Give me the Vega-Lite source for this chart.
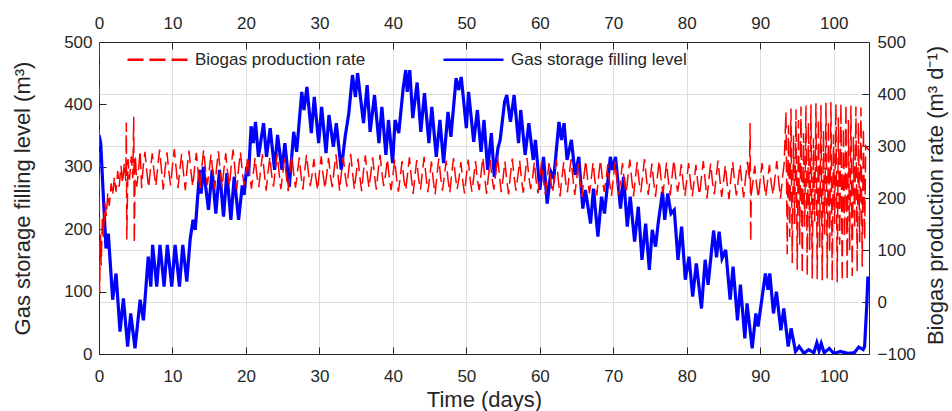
{
"$schema": "https://vega.github.io/schema/vega-lite/v6.json",
"width": 770, "height": 312,
"autosize": {"type": "none"},
"padding": {"left": 99, "top": 42, "right": 83, "bottom": 57},
"config": {
 "view": {"stroke": null},
 "font": "Liberation Sans",
 "axis": {"domainColor": "#262626", "domainWidth": 1, "tickColor": "#262626", "tickSize": -7, "tickWidth": 1,
  "labelColor": "#262626", "labelFont": "Liberation Sans", "labelFontSize": 17, "labelPadding": 17,
  "labelFlush": false, "labelOverlap": false, "labelBound": false,
  "titleColor": "#262626", "titleFont": "Liberation Sans", "titleFontSize": 22, "titleFontWeight": "normal",
  "gridColor": "#dedede", "gridWidth": 1}
},
"datasets": {
 "blue": [
  {"d":0,"v":351},{"d":0.23,"v":338},{"d":0.95,"v":169},{"d":1.27,"v":193},{"d":1.86,"v":87},{"d":2.32,"v":129},{"d":2.86,"v":36},{"d":3.32,"v":89},{"d":3.9,"v":12},{"d":4.32,"v":65},{"d":4.9,"v":9},{"d":5.6,"v":87},{"d":6.05,"v":54},{"d":6.7,"v":156},{"d":7.05,"v":108},{"d":7.3,"v":175},{"d":7.86,"v":108},{"d":8.3,"v":175},{"d":8.86,"v":108},{"d":9.3,"v":175},{"d":9.9,"v":108},{"d":10.36,"v":175},{"d":10.95,"v":108},{"d":11.4,"v":175},{"d":11.95,"v":116},{"d":12.4,"v":183},{"d":12.8,"v":215},{"d":13.1,"v":199},{"d":13.7,"v":295},{"d":13.9,"v":257},{"d":14.2,"v":300},{"d":14.9,"v":231},{"d":15.4,"v":295},{"d":15.9,"v":225},{"d":16.4,"v":295},{"d":16.95,"v":220},{"d":17.4,"v":290},{"d":17.95,"v":215},{"d":18.4,"v":284},{"d":19.0,"v":215},{"d":19.5,"v":270},{"d":19.75,"v":255},{"d":20.1,"v":300},{"d":20.35,"v":285},{"d":20.7,"v":365},{"d":21.0,"v":338},{"d":21.3,"v":372},{"d":21.7,"v":316},{"d":22.4,"v":370},{"d":22.8,"v":316},{"d":23.3,"v":362},{"d":23.9,"v":295},{"d":24.3,"v":351},{"d":24.9,"v":295},{"d":25.3,"v":338},{"d":25.9,"v":268},{"d":26.5,"v":356},{"d":26.9,"v":324},{"d":27.6,"v":420},{"d":27.9,"v":391},{"d":28.3,"v":428},{"d":28.9,"v":354},{"d":29.3,"v":412},{"d":29.9,"v":338},{"d":30.3,"v":396},{"d":30.9,"v":322},{"d":31.3,"v":383},{"d":31.9,"v":332},{"d":32.3,"v":370},{"d":32.97,"v":295},{"d":33.5,"v":348},{"d":34.0,"v":386},{"d":34.5,"v":447},{"d":34.9,"v":412},{"d":35.2,"v":450},{"d":36.0,"v":370},{"d":36.5,"v":431},{"d":36.9,"v":356},{"d":37.5,"v":415},{"d":38.1,"v":338},{"d":38.5,"v":396},{"d":39.05,"v":319},{"d":39.4,"v":375},{"d":39.96,"v":306},{"d":40.3,"v":375},{"d":40.8,"v":354},{"d":41.4,"v":426},{"d":41.75,"v":455},{"d":41.95,"v":420},{"d":42.3,"v":455},{"d":42.7,"v":378},{"d":43.3,"v":435},{"d":43.8,"v":356},{"d":44.3,"v":418},{"d":44.9,"v":338},{"d":45.3,"v":396},{"d":45.9,"v":316},{"d":46.4,"v":375},{"d":46.9,"v":306},{"d":47.5,"v":388},{"d":47.9,"v":348},{"d":48.6,"v":442},{"d":48.96,"v":423},{"d":49.3,"v":444},{"d":50.0,"v":362},{"d":50.3,"v":420},{"d":51.0,"v":340},{"d":51.5,"v":391},{"d":52.0,"v":324},{"d":52.4,"v":375},{"d":52.9,"v":295},{"d":53.4,"v":354},{"d":53.8,"v":284},{"d":54.3,"v":330},{"d":54.6,"v":343},{"d":55.2,"v":404},{"d":55.5,"v":415},{"d":56.0,"v":372},{"d":56.5,"v":415},{"d":57.1,"v":338},{"d":57.4,"v":391},{"d":58.0,"v":319},{"d":58.5,"v":370},{"d":59.1,"v":311},{"d":59.4,"v":343},{"d":60.0,"v":263},{"d":60.5,"v":316},{"d":61.0,"v":241},{"d":61.5,"v":292},{"d":61.9,"v":282},{"d":62.6,"v":372},{"d":62.95,"v":343},{"d":63.3,"v":370},{"d":63.7,"v":311},{"d":64.3,"v":343},{"d":64.8,"v":287},{"d":65.3,"v":316},{"d":65.85,"v":233},{"d":66.2,"v":263},{"d":66.9,"v":209},{"d":67.3,"v":265},{"d":67.9,"v":188},{"d":68.4,"v":252},{"d":68.8,"v":225},{"d":69.6,"v":316},{"d":69.9,"v":295},{"d":70.3,"v":316},{"d":70.98,"v":233},{"d":71.4,"v":284},{"d":71.9,"v":204},{"d":72.3,"v":252},{"d":72.9,"v":180},{"d":73.4,"v":236},{"d":73.9,"v":151},{"d":74.4,"v":209},{"d":74.9,"v":135},{"d":75.3,"v":199},{"d":75.75,"v":172},{"d":76.1,"v":209},{"d":76.7,"v":260},{"d":77.0,"v":215},{"d":77.4,"v":257},{"d":77.85,"v":225},{"d":78.3,"v":231},{"d":78.8,"v":151},{"d":79.3,"v":204},{"d":79.8,"v":119},{"d":80.3,"v":156},{"d":80.8,"v":92},{"d":81.3,"v":145},{"d":82.0,"v":73},{"d":82.5,"v":151},{"d":82.9,"v":111},{"d":83.65,"v":198},{"d":84.05,"v":155},{"d":84.4,"v":196},{"d":84.8,"v":153},{"d":85.3,"v":167},{"d":85.9,"v":87},{"d":86.3,"v":140},{"d":86.9,"v":54},{"d":87.3,"v":111},{"d":87.9,"v":25},{"d":88.2,"v":81},{"d":88.9,"v":9},{"d":89.4,"v":65},{"d":89.7,"v":44},{"d":90.7,"v":129},{"d":91.05,"v":103},{"d":91.3,"v":129},{"d":91.8,"v":65},{"d":92.2,"v":100},{"d":92.8,"v":38},{"d":93.2,"v":73},{"d":93.8,"v":12},{"d":94.2,"v":41},{"d":94.8,"v":4},{"d":95.3,"v":12},{"d":95.95,"v":1},{"d":96.6,"v":7},{"d":97.3,"v":2},{"d":97.7,"v":18},{"d":98.0,"v":5},{"d":98.3,"v":17},{"d":98.7,"v":2},{"d":99.4,"v":9},{"d":100.0,"v":1},{"d":100.9,"v":4},{"d":101.9,"v":1},{"d":102.8,"v":2},{"d":103.4,"v":11},{"d":104.0,"v":7},{"d":104.2,"v":12},{"d":104.5,"v":79},{"d":104.65,"v":124},{"d":104.8,"v":103}
 ],
 "red": [
  {"d":0,"r":500},{"d":0.08,"r":15},{"d":0.2,"r":130},{"d":0.3,"r":70},{"d":0.45,"r":160},{"d":0.6,"r":125},{"d":0.8,"r":190},{"d":1.0,"r":165},{"d":1.2,"r":210},{"d":1.4,"r":185},{"d":1.65,"r":228},{"d":1.85,"r":205},{"d":2.1,"r":240},{"d":2.3,"r":212},{"d":2.55,"r":252},{"d":2.75,"r":222},{"d":3.0,"r":262},{"d":3.2,"r":228},{"d":3.45,"r":268},{"d":3.65,"r":232},{"d":3.72,"r":345},{"d":3.78,"r":120},{"d":3.95,"r":275},{"d":4.15,"r":235},{"d":4.4,"r":280},{"d":4.6,"r":238},{"d":4.73,"r":356},{"d":4.8,"r":113},{"d":4.95,"r":282},{"d":5.15,"r":222},{"d":5.4,"r":258},{"d":5.6,"r":291},{"d":5.8,"r":219},
  {"d":6,"r":258},{"d":6.25,"r":289},{"d":6.5,"r":252},{"d":6.75,"r":220},
  {"d":7,"r":255},{"d":7.25,"r":286},{"d":7.5,"r":249},{"d":7.75,"r":223},
  {"d":8,"r":262},{"d":8.25,"r":293},{"d":8.5,"r":255},{"d":8.75,"r":216},
  {"d":9,"r":257},{"d":9.25,"r":288},{"d":9.5,"r":251},{"d":9.75,"r":224},
  {"d":10,"r":263},{"d":10.25,"r":294},{"d":10.5,"r":257},{"d":10.75,"r":219},
  {"d":11,"r":254},{"d":11.25,"r":285},{"d":11.5,"r":248},{"d":11.75,"r":215},
  {"d":12,"r":260},{"d":12.25,"r":291},{"d":12.5,"r":253},{"d":12.75,"r":222},
  {"d":13,"r":256},{"d":13.25,"r":287},{"d":13.5,"r":250},{"d":13.75,"r":218},
  {"d":14,"r":261},{"d":14.25,"r":292},{"d":14.5,"r":254},{"d":14.75,"r":225},
  {"d":15,"r":253},{"d":15.25,"r":284},{"d":15.5,"r":249},{"d":15.75,"r":217},
  {"d":16,"r":258},{"d":16.25,"r":290},{"d":16.5,"r":252},{"d":16.75,"r":220},
  {"d":17,"r":255},{"d":17.25,"r":286},{"d":17.5,"r":249},{"d":17.75,"r":223},
  {"d":18,"r":262},{"d":18.25,"r":293},{"d":18.5,"r":255},{"d":18.75,"r":216},
  {"d":19,"r":257},{"d":19.25,"r":288},{"d":19.5,"r":251},{"d":19.75,"r":224},
  {"d":20,"r":250},{"d":20.25,"r":280},{"d":20.5,"r":245},{"d":20.75,"r":218},
  {"d":21,"r":247},{"d":21.25,"r":277},{"d":21.5,"r":242},{"d":21.75,"r":221},
  {"d":22,"r":254},{"d":22.25,"r":284},{"d":22.5,"r":248},{"d":22.75,"r":214},
  {"d":23,"r":249},{"d":23.25,"r":279},{"d":23.5,"r":244},{"d":23.75,"r":222},
  {"d":24,"r":255},{"d":24.25,"r":285},{"d":24.5,"r":250},{"d":24.75,"r":217},
  {"d":25,"r":246},{"d":25.25,"r":276},{"d":25.5,"r":241},{"d":25.75,"r":213},
  {"d":26,"r":252},{"d":26.25,"r":282},{"d":26.5,"r":247},{"d":26.75,"r":220},
  {"d":27,"r":248},{"d":27.25,"r":278},{"d":27.5,"r":243},{"d":27.75,"r":216},
  {"d":28,"r":253},{"d":28.25,"r":283},{"d":28.5,"r":249},{"d":28.75,"r":223},
  {"d":29,"r":245},{"d":29.25,"r":275},{"d":29.5,"r":240},{"d":29.75,"r":215},
  {"d":30,"r":250},{"d":30.25,"r":280},{"d":30.5,"r":245},{"d":30.75,"r":218},
  {"d":31,"r":247},{"d":31.25,"r":277},{"d":31.5,"r":242},{"d":31.75,"r":221},
  {"d":32,"r":254},{"d":32.25,"r":284},{"d":32.5,"r":248},{"d":32.75,"r":214},
  {"d":33,"r":249},{"d":33.25,"r":279},{"d":33.5,"r":244},{"d":33.75,"r":222},
  {"d":34,"r":255},{"d":34.25,"r":285},{"d":34.5,"r":250},{"d":34.75,"r":217},
  {"d":35,"r":246},{"d":35.25,"r":276},{"d":35.5,"r":241},{"d":35.75,"r":213},
  {"d":36,"r":252},{"d":36.25,"r":282},{"d":36.5,"r":247},{"d":36.75,"r":220},
  {"d":37,"r":248},{"d":37.25,"r":278},{"d":37.5,"r":243},{"d":37.75,"r":216},
  {"d":38,"r":253},{"d":38.25,"r":283},{"d":38.5,"r":249},{"d":38.75,"r":223},
  {"d":39,"r":245},{"d":39.25,"r":275},{"d":39.5,"r":240},{"d":39.75,"r":215},
  {"d":40,"r":243},{"d":40.25,"r":274},{"d":40.5,"r":238},{"d":40.75,"r":212},
  {"d":41,"r":240},{"d":41.25,"r":271},{"d":41.5,"r":235},{"d":41.75,"r":215},
  {"d":42,"r":247},{"d":42.25,"r":278},{"d":42.5,"r":241},{"d":42.75,"r":208},
  {"d":43,"r":242},{"d":43.25,"r":273},{"d":43.5,"r":237},{"d":43.75,"r":216},
  {"d":44,"r":248},{"d":44.25,"r":279},{"d":44.5,"r":243},{"d":44.75,"r":211},
  {"d":45,"r":239},{"d":45.25,"r":270},{"d":45.5,"r":234},{"d":45.75,"r":207},
  {"d":46,"r":245},{"d":46.25,"r":276},{"d":46.5,"r":240},{"d":46.75,"r":214},
  {"d":47,"r":241},{"d":47.25,"r":272},{"d":47.5,"r":236},{"d":47.75,"r":210},
  {"d":48,"r":246},{"d":48.25,"r":277},{"d":48.5,"r":242},{"d":48.75,"r":217},
  {"d":49,"r":238},{"d":49.25,"r":269},{"d":49.5,"r":233},{"d":49.75,"r":209},
  {"d":50,"r":243},{"d":50.25,"r":274},{"d":50.5,"r":238},{"d":50.75,"r":212},
  {"d":51,"r":240},{"d":51.25,"r":271},{"d":51.5,"r":235},{"d":51.75,"r":215},
  {"d":52,"r":247},{"d":52.25,"r":278},{"d":52.5,"r":241},{"d":52.75,"r":208},
  {"d":53,"r":242},{"d":53.25,"r":273},{"d":53.5,"r":237},{"d":53.75,"r":216},
  {"d":54,"r":248},{"d":54.25,"r":279},{"d":54.5,"r":243},{"d":54.75,"r":211},
  {"d":55,"r":239},{"d":55.25,"r":270},{"d":55.5,"r":234},{"d":55.75,"r":207},
  {"d":56,"r":245},{"d":56.25,"r":276},{"d":56.5,"r":240},{"d":56.75,"r":214},
  {"d":57,"r":241},{"d":57.25,"r":272},{"d":57.5,"r":236},{"d":57.75,"r":210},
  {"d":58,"r":246},{"d":58.25,"r":277},{"d":58.5,"r":242},{"d":58.75,"r":217},
  {"d":59,"r":238},{"d":59.25,"r":269},{"d":59.5,"r":233},{"d":59.75,"r":209},
  {"d":60,"r":239},{"d":60.25,"r":270},{"d":60.5,"r":234},{"d":60.75,"r":207},
  {"d":61,"r":236},{"d":61.25,"r":267},{"d":61.5,"r":231},{"d":61.75,"r":210},
  {"d":62,"r":243},{"d":62.25,"r":274},{"d":62.5,"r":237},{"d":62.75,"r":203},
  {"d":63,"r":238},{"d":63.25,"r":269},{"d":63.5,"r":233},{"d":63.75,"r":211},
  {"d":64,"r":244},{"d":64.25,"r":275},{"d":64.5,"r":239},{"d":64.75,"r":206},
  {"d":65,"r":235},{"d":65.25,"r":266},{"d":65.5,"r":230},{"d":65.75,"r":202},
  {"d":66,"r":241},{"d":66.25,"r":272},{"d":66.5,"r":236},{"d":66.75,"r":209},
  {"d":67,"r":237},{"d":67.25,"r":268},{"d":67.5,"r":232},{"d":67.75,"r":205},
  {"d":68,"r":242},{"d":68.25,"r":273},{"d":68.5,"r":238},{"d":68.75,"r":212},
  {"d":69,"r":234},{"d":69.25,"r":265},{"d":69.5,"r":229},{"d":69.75,"r":204},
  {"d":70,"r":239},{"d":70.25,"r":270},{"d":70.5,"r":234},{"d":70.75,"r":207},
  {"d":71,"r":236},{"d":71.25,"r":267},{"d":71.5,"r":231},{"d":71.75,"r":210},
  {"d":72,"r":243},{"d":72.25,"r":274},{"d":72.5,"r":237},{"d":72.75,"r":203},
  {"d":73,"r":238},{"d":73.25,"r":269},{"d":73.5,"r":233},{"d":73.75,"r":211},
  {"d":74,"r":244},{"d":74.25,"r":275},{"d":74.5,"r":239},{"d":74.75,"r":206},
  {"d":75,"r":235},{"d":75.25,"r":266},{"d":75.5,"r":230},{"d":75.75,"r":202},
  {"d":76,"r":241},{"d":76.25,"r":272},{"d":76.5,"r":236},{"d":76.75,"r":209},
  {"d":77,"r":237},{"d":77.25,"r":268},{"d":77.5,"r":232},{"d":77.75,"r":205},
  {"d":78,"r":242},{"d":78.25,"r":273},{"d":78.5,"r":238},{"d":78.75,"r":212},
  {"d":79,"r":234},{"d":79.25,"r":265},{"d":79.5,"r":229},{"d":79.75,"r":204},
  {"d":80,"r":236},{"d":80.25,"r":267},{"d":80.5,"r":231},{"d":80.75,"r":203},
  {"d":81,"r":233},{"d":81.25,"r":264},{"d":81.5,"r":228},{"d":81.75,"r":206},
  {"d":82,"r":240},{"d":82.25,"r":271},{"d":82.5,"r":234},{"d":82.75,"r":199},
  {"d":83,"r":235},{"d":83.25,"r":266},{"d":83.5,"r":230},{"d":83.75,"r":207},
  {"d":84,"r":241},{"d":84.25,"r":272},{"d":84.5,"r":236},{"d":84.75,"r":202},
  {"d":85,"r":232},{"d":85.25,"r":263},{"d":85.5,"r":227},{"d":85.75,"r":198},
  {"d":86,"r":238},{"d":86.25,"r":269},{"d":86.5,"r":233},{"d":86.75,"r":205},
  {"d":87,"r":234},{"d":87.25,"r":265},{"d":87.5,"r":229},{"d":87.75,"r":201},
  {"d":88,"r":239},{"d":88.25,"r":270},{"d":88.5,"r":235},{"d":88.62,"r":344},{"d":88.7,"r":116},{"d":88.78,"r":208},
  {"d":89,"r":231},{"d":89.25,"r":262},{"d":89.5,"r":226},{"d":89.75,"r":200},
  {"d":90,"r":236},{"d":90.25,"r":267},{"d":90.5,"r":231},{"d":90.75,"r":203},
  {"d":91,"r":233},{"d":91.25,"r":264},{"d":91.5,"r":228},{"d":91.75,"r":206},
  {"d":92,"r":240},{"d":92.25,"r":271},{"d":92.5,"r":234},{"d":92.75,"r":199},
  {"d":93,"r":235},{"d":93.25,"r":266},
  {"d":93.5,"r":365},{"d":93.67,"r":92},{"d":93.84,"r":340},{"d":94.01,"r":125},{"d":94.18,"r":372},{"d":94.35,"r":75},{"d":94.52,"r":320},{"d":94.69,"r":150},{"d":94.86,"r":370},{"d":95.03,"r":62},{"d":95.2,"r":350},{"d":95.37,"r":110},{"d":95.54,"r":376},{"d":95.71,"r":55},{"d":95.88,"r":325},{"d":96.05,"r":145},{"d":96.22,"r":378},{"d":96.39,"r":50},{"d":96.56,"r":345},{"d":96.73,"r":100},{"d":96.9,"r":380},{"d":97.07,"r":45},{"d":97.24,"r":315},{"d":97.41,"r":155},{"d":97.58,"r":382},{"d":97.75,"r":44},{"d":97.92,"r":352},{"d":98.09,"r":105},{"d":98.26,"r":379},{"d":98.43,"r":42},{"d":98.6,"r":330},{"d":98.77,"r":130},{"d":98.94,"r":383},{"d":99.11,"r":45},{"d":99.28,"r":348},{"d":99.45,"r":95},{"d":99.62,"r":384},{"d":99.79,"r":40},{"d":99.96,"r":322},{"d":100.13,"r":150},{"d":100.3,"r":381},{"d":100.47,"r":38},{"d":100.64,"r":355},{"d":100.81,"r":110},{"d":100.98,"r":382},{"d":101.15,"r":40},{"d":101.32,"r":335},{"d":101.49,"r":125},{"d":101.66,"r":380},{"d":101.83,"r":42},{"d":102.0,"r":350},{"d":102.17,"r":100},{"d":102.34,"r":378},{"d":102.51,"r":50},{"d":102.68,"r":318},{"d":102.85,"r":140},{"d":103.02,"r":376},{"d":103.19,"r":58},{"d":103.36,"r":345},{"d":103.53,"r":115},{"d":103.7,"r":374},{"d":103.87,"r":68},{"d":104.04,"r":335},{"d":104.21,"r":120},{"d":104.35,"r":300},{"d":104.8,"r":292}
 ]
},
"layer": [
 {
  "data": {"name": "blue"},
  "mark": {"type": "line", "strokeWidth": 3.2, "clip": true},
  "encoding": {
   "x": {"field": "d", "type": "quantitative",
    "scale": {"domain": [0, 104.8], "nice": false, "zero": false},
    "axis": {"orient": "bottom", "values": [0,10,20,30,40,50,60,70,80,90,100], "grid": true, "labelPadding": 21,
     "title": "Time (days)", "titleY": 45, "titleBaseline": "middle"}},
   "y": {"field": "v", "type": "quantitative",
    "scale": {"domain": [0, 500], "nice": false, "zero": false},
    "axis": {"orient": "left", "values": [0,100,200,300,400,500], "grid": false, "labelPadding": 14,
     "title": "Gas storage filling level (m³)", "titleX": -77, "titleY": 156, "titleAngle": -90,
     "titleBaseline": "middle", "titleAlign": "center"}},
   "color": {"datum": "Gas storage filling level", "type": "nominal",
    "scale": {"domain": ["Biogas production rate", "Gas storage filling level"], "range": ["#ff0000", "#0000ff"]},
    "legend": {"title": null, "orient": "none", "legendX": 27, "legendY": -14, "direction": "horizontal",
     "symbolType": "stroke", "symbolSize": 3600, "symbolStrokeWidth": 2.5, "labelFontSize": 17, "labelLimit": 400,
     "labelFont": "Liberation Sans", "labelColor": "#262626", "labelOffset": 6, "columnPadding": 72}},
   "strokeDash": {"datum": "Gas storage filling level", "type": "nominal",
    "scale": {"domain": ["Biogas production rate", "Gas storage filling level"], "range": [[16, 6], [1, 0]]},
    "legend": {"title": null, "orient": "none", "legendX": 27, "legendY": -14, "direction": "horizontal",
     "symbolType": "stroke", "symbolSize": 3600, "symbolStrokeWidth": 2.5, "labelFontSize": 17, "labelLimit": 400,
     "labelFont": "Liberation Sans", "labelColor": "#262626", "labelOffset": 6, "columnPadding": 72}}
  }
 },
 {
  "data": {"name": "red"},
  "mark": {"type": "line", "strokeWidth": 1.5, "clip": true},
  "encoding": {
   "x": {"field": "d", "type": "quantitative",
    "axis": {"orient": "top", "values": [0,10,20,30,40,50,60,70,80,90,100], "grid": false, "title": null}},
   "y": {"field": "r", "type": "quantitative",
    "scale": {"domain": [-100, 500], "nice": false, "zero": false},
    "axis": {"orient": "right", "values": [-100,0,100,200,300,400,500], "grid": true, "labelPadding": 15,
     "title": "Biogas production rate (m³ d⁻¹)", "titleX": 66, "titleY": 153, "titleAngle": -90,
     "titleBaseline": "middle", "titleAlign": "center"}},
   "color": {"datum": "Biogas production rate", "type": "nominal"},
   "strokeDash": {"datum": "Biogas production rate", "type": "nominal"}
  }
 }
],
"resolve": {"scale": {"y": "independent"}, "axis": {"x": "independent", "y": "independent"}}
}
